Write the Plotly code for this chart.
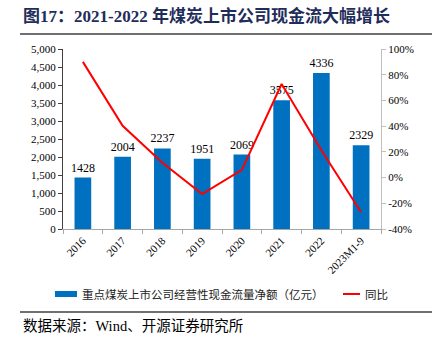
import plotly.graph_objects as go

categories = ["2016", "2017", "2018", "2019", "2020", "2021", "2022", "2023M1-9"]
cash_flow = [1428, 2004, 2237, 1951, 2069, 3575, 4336, 2329]
yoy = [90, 40.3, 11.6, -12.8, 6.0, 72.8, 21.3, -27.0]
left_ticks = [0, 500, 1000, 1500, 2000, 2500, 3000, 3500, 4000, 4500, 5000]
right_ticks = [-40, -20, 0, 20, 40, 60, 80, 100]

title_text = "图17：2021-2022 年煤炭上市公司现金流大幅增长"
bar_name = "重点煤炭上市公司经营性现金流量净额（亿元）"
line_name = "同比"
source_text = "数据来源：Wind、开源证券研究所"

SERIF = "Liberation Serif, Times New Roman, Noto Sans CJK SC"
CJK = "Noto Sans CJK SC, Liberation Serif"
BLUE = "#0070C0"
RED = "#FF0000"

W, H = 439, 348
ML, MR, MT, MB = 63, 58, 49, 119
PW = W - ML - MR
PH = H - MT - MB


def px(x):
    return (x - ML) / PW


def py(y):
    return (H - MB - y) / PH


fig = go.Figure()
fig.add_trace(go.Bar(
    x=categories, y=cash_flow, name=bar_name,
    marker=dict(color=BLUE, line=dict(width=0)),
    text=[str(v) for v in cash_flow], textposition="outside",
    textfont=dict(family=SERIF, size=12, color="#000000"),
    constraintext="none",
    cliponaxis=False, yaxis="y",
))
fig.add_trace(go.Scatter(
    x=categories, y=yoy, name=line_name, mode="lines",
    line=dict(color=RED, width=2), yaxis="y2",
))

fig.update_layout(
    width=W, height=H,
    margin=dict(l=ML, r=MR, t=MT, b=MB),
    paper_bgcolor="white", plot_bgcolor="white",
    showlegend=False,
    bargap=0.58,
    xaxis=dict(
        type="category", tickangle=-45, tickson="boundaries",
        ticks="outside", ticklen=4, tickcolor="#A6A6A6",
        showline=True, linecolor="#A6A6A6", linewidth=1,
        tickfont=dict(family=SERIF, size=11, color="#000000"),
        showgrid=False,
    ),
    yaxis=dict(
        range=[0, 5000], tickvals=left_ticks,
        tickformat=",", ticks="outside", ticklen=4, tickcolor="#404040",
        showline=True, linecolor="#404040", linewidth=1,
        showgrid=False, zeroline=False,
        tickfont=dict(family=SERIF, size=11, color="#000000"),
    ),
    yaxis2=dict(
        range=[-40, 100], tickvals=right_ticks,
        ticktext=[f"{v}%" for v in right_ticks],
        overlaying="y", side="right",
        ticks="outside", ticklen=4, tickcolor="#BFBFBF",
        showline=True, linecolor="#BFBFBF", linewidth=1,
        showgrid=False, zeroline=False,
        tickfont=dict(family=SERIF, size=11, color="#000000"),
    ),
)

shapes = [
    dict(type="line", xref="paper", yref="paper", x0=px(20), x1=px(432), y0=py(34), y1=py(34),
         line=dict(color="#404040", width=1.5)),
    dict(type="line", xref="paper", yref="paper", x0=px(20), x1=px(432), y0=py(312), y1=py(312),
         line=dict(color="#404040", width=1.5)),
    dict(type="rect", xref="paper", yref="paper", x0=px(55), x1=px(77), y0=py(297), y1=py(291),
         fillcolor=BLUE, line=dict(width=0)),
    dict(type="line", xref="paper", yref="paper", x0=px(343), x1=px(360), y0=py(294), y1=py(294),
         line=dict(color=RED, width=2)),
]
fig.update_layout(shapes=shapes)

annotations = [
    dict(text="<b>" + title_text + "</b>", xref="paper", yref="paper", x=px(21), y=py(16),
         xanchor="left", yanchor="middle", showarrow=False,
         font=dict(family=SERIF, size=17, color="#1F2D5A")),
    dict(text=bar_name, xref="paper", yref="paper", x=px(80), y=py(294),
         xanchor="left", yanchor="middle", showarrow=False,
         font=dict(family=CJK, size=11.5, color="#222222")),
    dict(text=line_name, xref="paper", yref="paper", x=px(363), y=py(294),
         xanchor="left", yanchor="middle", showarrow=False,
         font=dict(family=CJK, size=11.5, color="#222222")),
    dict(text=source_text, xref="paper", yref="paper", x=px(21), y=py(326),
         xanchor="left", yanchor="middle", showarrow=False,
         font=dict(family=SERIF, size=14.5, color="#000000")),
]
fig.update_layout(annotations=annotations)

fig.write_html("out.html")
